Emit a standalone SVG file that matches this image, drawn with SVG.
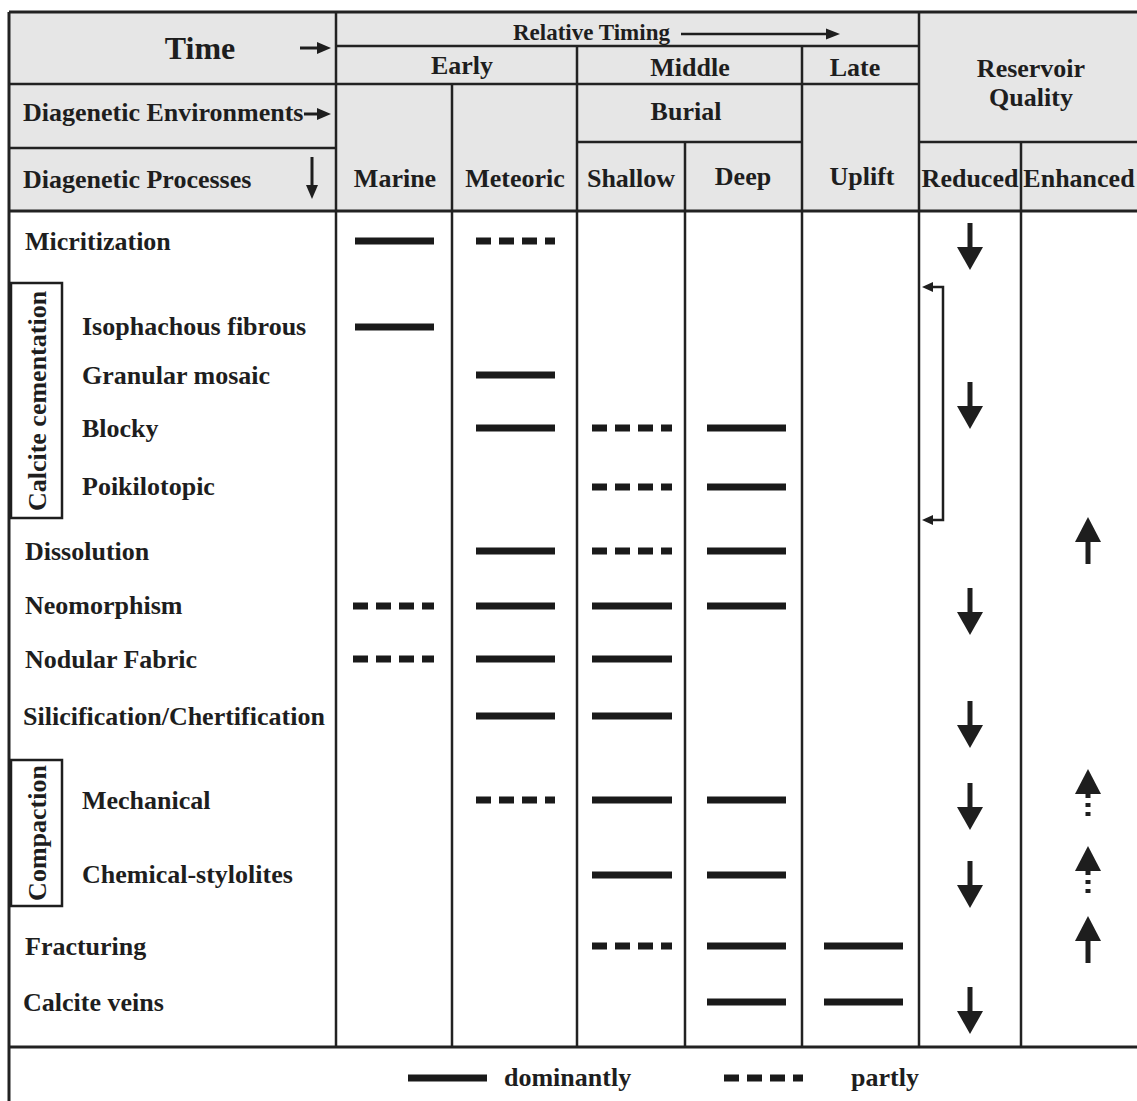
<svg xmlns="http://www.w3.org/2000/svg" xmlns:xlink="http://www.w3.org/1999/xlink" width="1137" height="1101" viewBox="0 0 1137 1101">
<style>
text{font-family:"Liberation Serif","Times New Roman",serif;font-weight:bold;fill:#1e1e1e;font-size:26px}
.c{text-anchor:middle}
.grid line{stroke:#222;stroke-width:2.5}
.solid{stroke:#1a1a1a;stroke-width:7}
.dash{stroke:#1a1a1a;stroke-width:7;stroke-dasharray:15 8}
.thin{stroke:#1e1e1e;stroke-width:2.5;fill:none}
.harrow{stroke:#1e1e1e;stroke-width:3;fill:none}
.fill{fill:#1e1e1e}
</style>
<defs>
<g id="down"><rect x="-2.5" y="0" width="5" height="25" class="fill"/><polygon points="-13,24 13,24 0,47" class="fill"/></g>
<g id="up"><rect x="-2.5" y="22" width="5" height="25" class="fill"/><polygon points="-13,25 13,25 0,0" class="fill"/></g>
<g id="updot"><line x1="0" y1="25" x2="0" y2="48" stroke="#1e1e1e" stroke-width="5" stroke-dasharray="4 5"/><polygon points="-13,25 13,25 0,0" class="fill"/></g>
</defs>
<rect x="0" y="0" width="1137" height="1101" fill="#ffffff"/>
<rect x="9" y="12" width="1130" height="199" fill="#e6e6e6"/>

<g id="grid" class="grid">
<line x1="9" y1="12" x2="1137" y2="12" style="stroke-width:3"/>
<line x1="9" y1="12" x2="9" y2="1101" style="stroke-width:3"/>
<line x1="336" y1="46" x2="919" y2="46"/>
<line x1="9" y1="84" x2="919" y2="84"/>
<line x1="9" y1="148" x2="336" y2="148"/>
<line x1="577" y1="142" x2="802" y2="142"/>
<line x1="919" y1="142" x2="1137" y2="142"/>
<line x1="9" y1="211" x2="1137" y2="211" style="stroke-width:3"/>
<line x1="9" y1="1047" x2="1137" y2="1047" style="stroke-width:3"/>
<line x1="336" y1="12" x2="336" y2="1047"/>
<line x1="452" y1="84" x2="452" y2="1047"/>
<line x1="577" y1="46" x2="577" y2="1047"/>
<line x1="685" y1="142" x2="685" y2="1047"/>
<line x1="802" y1="46" x2="802" y2="1047"/>
<line x1="919" y1="12" x2="919" y2="1047"/>
<line x1="1021" y1="142" x2="1021" y2="1047"/>
</g>

<g id="header">
<text x="200" y="59" class="c" style="font-size:32px">Time</text>
<line x1="300" y1="48" x2="320" y2="48" class="harrow"/><polygon points="317,42 331,48 317,54" class="fill"/>
<text x="513" y="40" style="font-size:23px">Relative Timing</text>
<line x1="681" y1="34" x2="830" y2="34" class="thin"/><polygon points="826,28.5 840,34 826,39.5" class="fill"/>
<text x="462" y="74" class="c">Early</text>
<text x="690" y="76" class="c">Middle</text>
<text x="855" y="76" class="c">Late</text>
<text x="1031" y="77" class="c">Reservoir</text>
<text x="1031" y="106" class="c">Quality</text>
<text x="23" y="121">Diagenetic Environments</text>
<line x1="304" y1="114" x2="320" y2="114" class="harrow"/><polygon points="317,108 331,114 317,120" class="fill"/>
<text x="686" y="120" class="c">Burial</text>
<text x="23" y="188">Diagenetic Processes</text>
<line x1="312" y1="157" x2="312" y2="188" class="harrow"/><polygon points="306,185 318,185 312,199" class="fill"/>
<text x="395" y="187" class="c">Marine</text>
<text x="515" y="187" class="c">Meteoric</text>
<text x="631" y="187" class="c">Shallow</text>
<text x="743" y="185" class="c">Deep</text>
<text x="862" y="185" class="c">Uplift</text>
<text x="970" y="187" class="c">Reduced</text>
<text x="1079" y="187" class="c">Enhanced</text>
</g>

<g id="groups">
<g id="calcite-cementation"><rect x="11" y="283" width="51" height="235" class="thin"/><text transform="translate(46,401) rotate(-90)" class="c">Calcite cementation</text></g>
<g id="compaction"><rect x="11" y="760" width="51" height="146" class="thin"/><text transform="translate(46,833) rotate(-90)" class="c">Compaction</text></g>
</g>

<g id="processes">
<g id="micritization"><text x="25" y="250">Micritization</text><line x1="355" y1="241" x2="434" y2="241" class="solid"/><line x1="476" y1="241" x2="555" y2="241" class="dash"/></g>
<g id="isophachous"><text x="82" y="335">Isophachous fibrous</text><line x1="355" y1="327" x2="434" y2="327" class="solid"/></g>
<g id="granular"><text x="82" y="384">Granular mosaic</text><line x1="476" y1="375" x2="555" y2="375" class="solid"/></g>
<g id="blocky"><text x="82" y="437">Blocky</text><line x1="476" y1="428" x2="555" y2="428" class="solid"/><line x1="592" y1="428" x2="672" y2="428" class="dash"/><line x1="707" y1="428" x2="786" y2="428" class="solid"/></g>
<g id="poikilotopic"><text x="82" y="495">Poikilotopic</text><line x1="592" y1="487" x2="672" y2="487" class="dash"/><line x1="707" y1="487" x2="786" y2="487" class="solid"/></g>
<g id="dissolution"><text x="25" y="560">Dissolution</text><line x1="476" y1="551" x2="555" y2="551" class="solid"/><line x1="592" y1="551" x2="672" y2="551" class="dash"/><line x1="707" y1="551" x2="786" y2="551" class="solid"/></g>
<g id="neomorphism"><text x="25" y="614">Neomorphism</text><line x1="353" y1="606" x2="434" y2="606" class="dash"/><line x1="476" y1="606" x2="555" y2="606" class="solid"/><line x1="592" y1="606" x2="672" y2="606" class="solid"/><line x1="707" y1="606" x2="786" y2="606" class="solid"/></g>
<g id="nodular"><text x="25" y="668">Nodular Fabric</text><line x1="353" y1="659" x2="434" y2="659" class="dash"/><line x1="476" y1="659" x2="555" y2="659" class="solid"/><line x1="592" y1="659" x2="672" y2="659" class="solid"/></g>
<g id="silicification"><text x="23" y="725">Silicification/Chertification</text><line x1="476" y1="716" x2="555" y2="716" class="solid"/><line x1="592" y1="716" x2="672" y2="716" class="solid"/></g>
<g id="mechanical"><text x="82" y="809">Mechanical</text><line x1="476" y1="800" x2="555" y2="800" class="dash"/><line x1="592" y1="800" x2="672" y2="800" class="solid"/><line x1="707" y1="800" x2="786" y2="800" class="solid"/></g>
<g id="chemical"><text x="82" y="883">Chemical-stylolites</text><line x1="592" y1="875" x2="672" y2="875" class="solid"/><line x1="707" y1="875" x2="786" y2="875" class="solid"/></g>
<g id="fracturing"><text x="25" y="955">Fracturing</text><line x1="592" y1="946" x2="672" y2="946" class="dash"/><line x1="707" y1="946" x2="786" y2="946" class="solid"/><line x1="824" y1="946" x2="903" y2="946" class="solid"/></g>
<g id="calcite-veins"><text x="23" y="1011">Calcite veins</text><line x1="707" y1="1002" x2="786" y2="1002" class="solid"/><line x1="824" y1="1002" x2="903" y2="1002" class="solid"/></g>
</g>

<g id="connectors">
<use xlink:href="#down" href="#down" x="970" y="223"/>
<use xlink:href="#down" href="#down" x="970" y="382"/>
<use xlink:href="#down" href="#down" x="970" y="588"/>
<use xlink:href="#down" href="#down" x="970" y="701"/>
<use xlink:href="#down" href="#down" x="970" y="783"/>
<use xlink:href="#down" href="#down" x="970" y="861"/>
<use xlink:href="#down" href="#down" x="970" y="987"/>
<use xlink:href="#up" href="#up" x="1088" y="517"/>
<use xlink:href="#updot" href="#updot" x="1088" y="769"/>
<use xlink:href="#updot" href="#updot" x="1088" y="846"/>
<use xlink:href="#up" href="#up" x="1088" y="916"/>
<polyline points="932,287 943,287 943,520 932,520" class="thin"/>
<polygon points="933,282 933,292 922,287" class="fill"/>
<polygon points="933,515 933,525 922,520" class="fill"/>
</g>

<g id="legend">
<line x1="408" y1="1078" x2="487" y2="1078" class="solid"/>
<text x="504" y="1086">dominantly</text>
<line x1="724" y1="1078" x2="803" y2="1078" class="dash"/>
<text x="851" y="1086">partly</text>
</g>
</svg>
